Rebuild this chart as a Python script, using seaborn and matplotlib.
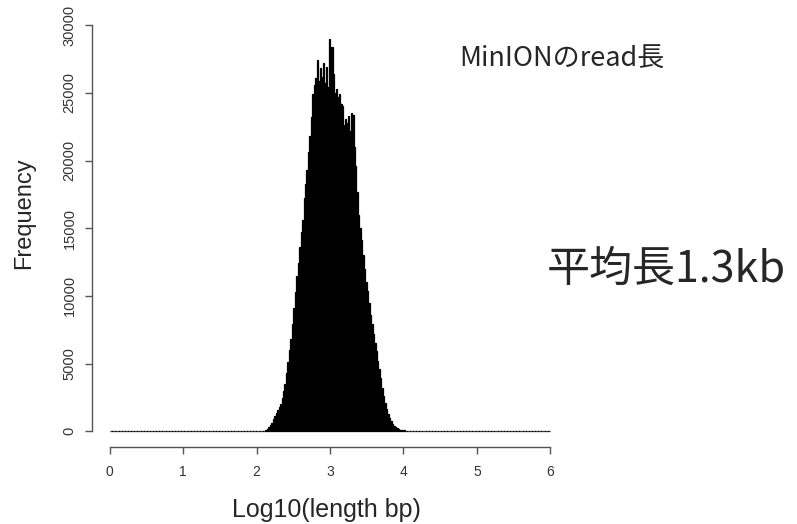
import numpy as np
import pandas as pd
import matplotlib
matplotlib.use("Agg")
import matplotlib.pyplot as plt
import seaborn as sns

# histogram of log10 read length, bin width 0.02 over 0..6
bin_width = 0.02
x_min, x_max = 0.0, 6.0
first_bin = 2.10  # left edge of first non-empty bin
counts = [
    30, 70, 160, 290, 450, 640, 880, 1120, 1330, 1540,
    1760, 2050, 2480, 2950, 3500, 4300, 5100, 6000, 6800, 7900,
    9100, 10300, 11500, 12400, 13600, 14700, 15600, 17200, 18300, 19300,
    20600, 21800, 23200, 24900, 25600, 26100, 27400, 25900, 26800, 26200,
    27200, 25700, 26900, 25400, 29000, 27000, 28400, 26400, 25000, 25300,
    24700, 24900, 24200, 24000, 22600, 23100, 22800, 23300, 22200, 23500,
    23400, 21000, 19600, 17700, 16000, 15000, 14100, 13000, 12000, 11000,
    10400, 9500, 8600, 7900, 7200, 6500, 5900, 5200, 4600, 3900,
    3200, 2600, 2100, 1650, 1300, 1000, 760, 560, 420, 310,
    230, 170, 130, 100, 80, 60, 50, 40, 30, 20,
    15, 10, 8, 5, 3,
]
x_ticks = [0, 1, 2, 3, 4, 5, 6]
y_ticks = [0, 5000, 10000, 15000, 20000, 25000, 30000]

title_text = "MinIONのread長"
note_text = "平均長1.3kb"
x_label = "Log10(length bp)"
y_label = "Frequency"

sns.set_style("white")
plt.rcParams['font.family'] = ['Liberation Sans', 'Noto Sans CJK JP', 'DejaVu Sans']


def main():
    edges = np.round(np.arange(x_min, x_max + bin_width / 2, bin_width), 4)
    centers = (edges[:-1] + edges[1:]) / 2
    full = np.zeros(len(centers))
    start = int(round((first_bin - x_min) / bin_width))
    full[start:start + len(counts)] = counts
    df = pd.DataFrame({"logLen": centers, "n": full})

    fig = plt.figure(figsize=(7.97, 5.24), dpi=100)
    ax = fig.add_axes([92 / 797, 77 / 524, 476 / 797, 424 / 524])

    sns.histplot(data=df, x="logLen", weights="n", bins=edges.tolist(), ax=ax,
                 color="black", edgecolor="black", linewidth=0.9, alpha=1)

    # R-style axes: padded limits, spines only across the tick range
    ax.set_xlim(-0.24, 6.24)
    ax.set_ylim(-1160, 30160)
    for side in ["top", "right"]:
        ax.spines[side].set_visible(False)
    ax.spines["left"].set_bounds(0, 30000)
    ax.spines["bottom"].set_bounds(0, 6)
    for side in ["left", "bottom"]:
        ax.spines[side].set_color("#555555")
        ax.spines[side].set_linewidth(1.0)

    ax.set_xticks(x_ticks)
    ax.set_yticks(y_ticks)
    ax.set_xticklabels([str(t) for t in x_ticks])
    ax.set_yticklabels([str(t) for t in y_ticks], rotation=90, va="center")
    ax.tick_params(axis="both", direction="out", color="#555555",
                   bottom=True, left=True,
                   labelcolor="#333333", length=5, width=1.0)
    ax.tick_params(axis="x", pad=8, labelsize=10)
    ax.tick_params(axis="y", pad=6, labelsize=10.5)

    ax.set_xlabel(x_label, fontsize=18)
    ax.set_ylabel(y_label, fontsize=17)
    ax.xaxis.set_label_coords((326 - 92) / 476, -(510 - 447) / 424)
    ax.yaxis.set_label_coords(-(92 - 24) / 476, (447 - 213) / 424)
    ax.xaxis.label.set_va("center")
    ax.yaxis.label.set_va("center")

    fig.text(459 / 797, 1 - 59 / 524, title_text, fontsize=19.5,
             family=['Noto Sans CJK JP', 'DejaVu Sans'], va="center", ha="left")
    fig.text(547 / 797, 1 - 270 / 524, note_text, fontsize=31,
             family=['Noto Sans CJK JP', 'DejaVu Sans'], va="center", ha="left")

    fig.savefig("out.png", dpi=100)


if __name__ == "__main__":
    main()
